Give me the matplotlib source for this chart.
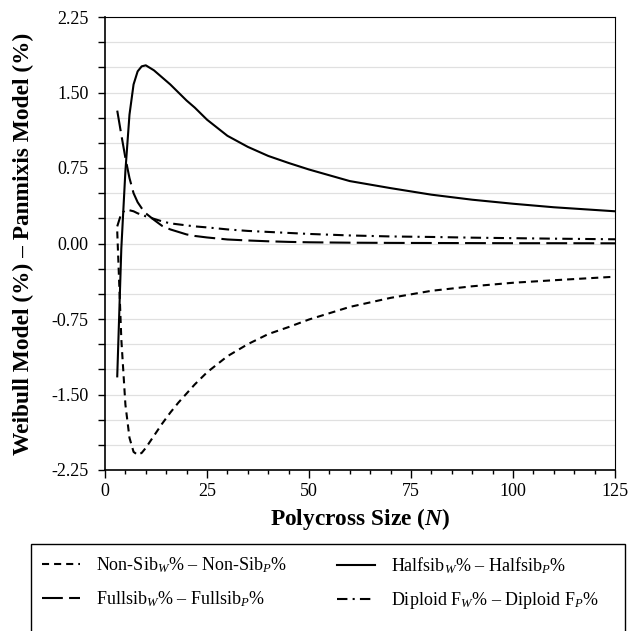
import numpy as np
import matplotlib
matplotlib.use('Agg')
import matplotlib.pyplot as plt
from matplotlib.patches import Rectangle
from matplotlib.ticker import MultipleLocator, FormatStrFormatter

plt.rcParams['font.family'] = ['Liberation Serif', 'DejaVu Serif']
plt.rcParams['mathtext.fontset'] = 'custom'
plt.rcParams['mathtext.rm'] = 'Liberation Serif'
plt.rcParams['mathtext.it'] = 'Liberation Serif:italic'
plt.rcParams['mathtext.bf'] = 'Liberation Serif:bold'
plt.rcParams['mathtext.bfit'] = 'Liberation Serif:bold:italic'

# polycross size
N = [3, 4, 5, 6, 7, 8, 9, 10, 12, 14, 16, 18, 20, 22, 25, 30, 35, 40, 45, 50,
     60, 70, 80, 90, 100, 110, 125]

# Weibull - Panmixis differences (%)
nonsib = [0.12, -0.95, -1.60, -1.93, -2.07, -2.10, -2.08, -2.03, -1.91, -1.79,
          -1.68, -1.58, -1.49, -1.40, -1.28, -1.12, -1.00, -0.90, -0.83, -0.755,
          -0.63, -0.54, -0.47, -0.425, -0.39, -0.365, -0.33]
halfsib = [-1.32, -0.05, 0.72, 1.28, 1.58, 1.71, 1.76, 1.77, 1.72, 1.65,
           1.58, 1.50, 1.42, 1.35, 1.23, 1.07, 0.96, 0.87, 0.80, 0.735,
           0.62, 0.55, 0.485, 0.435, 0.395, 0.36, 0.32]
fullsib = [1.32, 1.08, 0.85, 0.65, 0.50, 0.41, 0.35, 0.30, 0.235, 0.175,
           0.14, 0.115, 0.09, 0.075, 0.06, 0.04, 0.03, 0.022, 0.016, 0.012,
           0.008, 0.006, 0.005, 0.004, 0.003, 0.003, 0.002]
diploid = [0.17, 0.30, 0.33, 0.33, 0.32, 0.30, 0.285, 0.27, 0.245, 0.22,
           0.20, 0.19, 0.18, 0.17, 0.16, 0.14, 0.125, 0.115, 0.105, 0.095,
           0.08, 0.07, 0.065, 0.058, 0.053, 0.048, 0.042]

lab_nonsib = r'Non-Sib$_{W}$% – Non-Sib$_{P}$%'
lab_halfsib = r'Halfsib$_{W}$% – Halfsib$_{P}$%'
lab_fullsib = r'Fullsib$_{W}$% – Fullsib$_{P}$%'
lab_diploid = r'Diploid F$_{W}$% – Diploid F$_{P}$%'

W, H = 630, 631
fig = plt.figure(figsize=(6.3, 6.31), dpi=100)
ax = fig.add_axes([105 / W, 1 - 470 / H, 510 / W, 453 / H])

lw = 1.5
l1, = ax.plot(N, nonsib, color='black', lw=lw, dashes=(3.4, 2.4))
l2, = ax.plot(N, halfsib, color='black', lw=lw)
l3, = ax.plot(N, fullsib, color='black', lw=lw, dashes=(10, 3))
l4, = ax.plot(N, diploid, color='black', lw=lw, dashes=(5, 2.5, 1, 2.5))

ax.set_xlim(0, 125)
ax.set_ylim(-2.25, 2.25)
ax.xaxis.set_major_locator(MultipleLocator(25))
ax.xaxis.set_minor_locator(MultipleLocator(5))
ax.yaxis.set_major_locator(MultipleLocator(0.75))
ax.yaxis.set_minor_locator(MultipleLocator(0.25))
ax.yaxis.set_major_formatter(FormatStrFormatter('%.2f'))
ax.grid(which='both', axis='y', color='#e0e0e0', lw=0.9)
ax.set_axisbelow(True)

ax.tick_params(axis='y', which='both', direction='out', length=5, width=1,
               labelsize=13, pad=7)
ax.tick_params(axis='x', which='major', direction='out', length=6, width=1,
               labelsize=13, pad=3)
ax.tick_params(axis='x', which='minor', direction='out', length=3, width=1)

for s in ['left', 'bottom']:
    ax.spines[s].set_linewidth(1.2)
for s in ['top', 'right']:
    ax.spines[s].set_linewidth(0.8)

ax.set_xlabel(r'Polycross Size ($\mathbfit{N}$)', fontsize=16.8, fontweight='bold')
ax.set_ylabel('Weibull Model (%) – Panmixis Model (%)', fontsize=16.8,
              fontweight='bold')
ax.xaxis.set_label_coords(0.5, (470 - 506) / 453)
ax.yaxis.set_label_coords((34 - 105) / 510, 0.5)

# legend box
fig.patches.append(Rectangle((30.7 / W, -0.05), (624.5 - 30.7) / W, 1 - 544 / H + 0.05,
                             transform=fig.transFigure, fill=False,
                             edgecolor='black', lw=1.0, clip_on=False))
kw = dict(frameon=False, fontsize=13, handlelength=2.1, handletextpad=0.9,
          labelspacing=0.8, loc='upper left', borderaxespad=0, borderpad=0)
leg1 = fig.legend([l1, l3], [lab_nonsib, lab_fullsib],
                  bbox_to_anchor=(42 / W, 1 - 555 / H), **kw)
leg2 = fig.legend([l2, l4], [lab_halfsib, lab_diploid],
                  bbox_to_anchor=(337 / W, 1 - 555 / H), **kw)

fig.savefig('out.png', dpi=100)
